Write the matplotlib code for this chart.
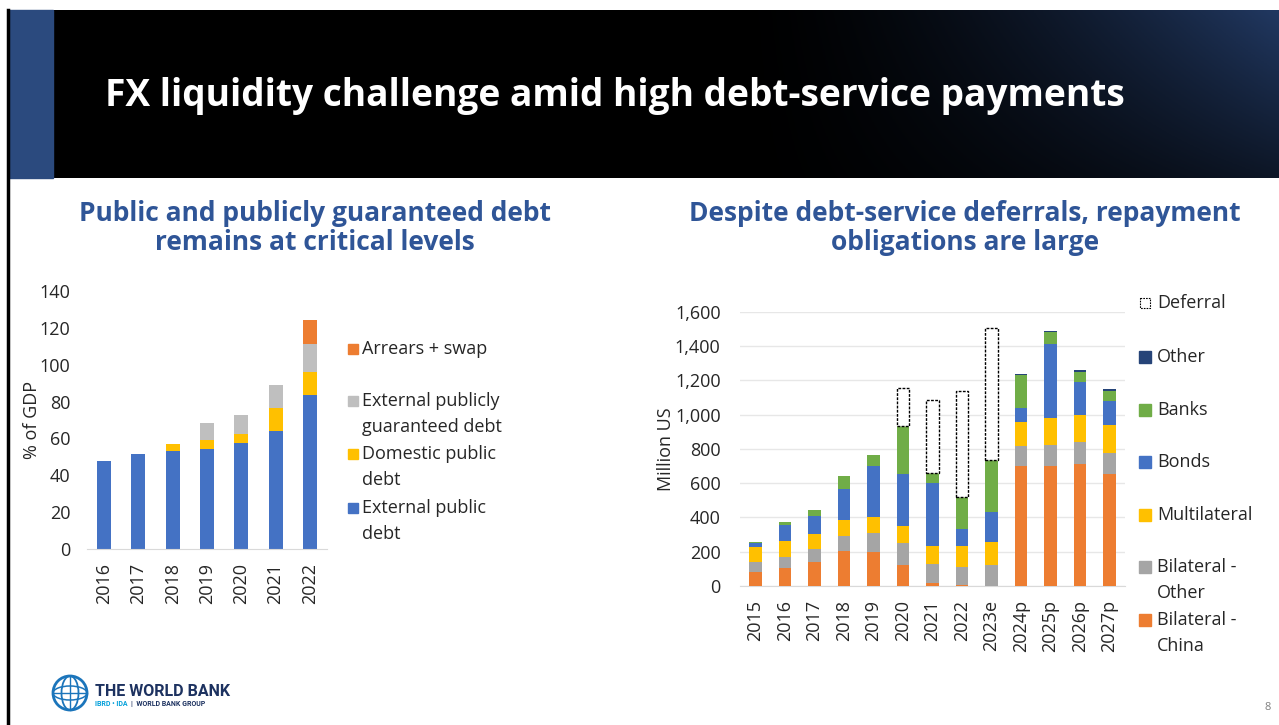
import numpy as np
import matplotlib
matplotlib.use("Agg")
import matplotlib.pyplot as plt
from matplotlib.patches import Rectangle, Circle, Ellipse

plt.rcParams['font.family'] = ['Open Sans', 'DejaVu Sans']

# ---- left chart data (% of GDP)
years_l = ['2016', '2017', '2018', '2019', '2020', '2021', '2022']
ext_public = [47.5, 51.3, 53.1, 54.0, 57.5, 63.8, 83.6]
domestic = [0, 0, 3.7, 4.9, 4.9, 12.6, 12.2]
ext_guar = [0, 0, 0, 9.5, 10.1, 12.5, 15.6]
arrears = [0, 0, 0, 0, 0, 0, 12.8]
left_labels = ['Arrears + swap', 'External publicly\nguaranteed debt',
               'Domestic public\ndebt', 'External public\ndebt']

# ---- right chart data (million US)
years_r = ['2015', '2016', '2017', '2018', '2019', '2020', '2021', '2022',
           '2023e', '2024p', '2025p', '2026p', '2027p']
bil_china = [84, 107, 140, 202, 198, 121, 19, 8, 0, 700, 702, 713, 655]
bil_other = [58, 64, 74, 90, 109, 130, 109, 103, 121, 116, 120, 127, 121]
multilat = [87, 91, 89, 93, 93, 97, 107, 124, 134, 140, 160, 157, 165]
bonds = [20, 94, 105, 183, 300, 305, 366, 97, 179, 82, 431, 193, 138]
banks = [8, 15, 35, 75, 64, 280, 56, 189, 301, 195, 70, 60, 60]
other = [0, 0, 0, 0, 0, 0, 0, 0, 0, 3, 4, 10, 8]
deferral = [0, 0, 0, 0, 0, 220, 426, 614, 772, 0, 0, 0, 0]
right_labels = ['Deferral', 'Other', 'Banks', 'Bonds', 'Multilateral',
                'Bilateral -\nOther', 'Bilateral -\nChina']

ORANGE = '#ED7D31'
GREY_L = '#BFBFBF'
GREY_R = '#A5A5A5'
YELLOW = '#FFC000'
BLUE = '#4472C4'
GREEN = '#70AD47'
NAVY = '#264478'
TITLE_BLUE = '#2F5597'
TXT = '#262626'

W, H = 1279, 725
fig = plt.figure(figsize=(W / 100, H / 100), dpi=100)

# overlay for decorations, pixel coordinates
ov = fig.add_axes([0, 0, 1, 1])
ov.set_xlim(0, W)
ov.set_ylim(H, 0)
ov.axis('off')

# banner gradient
gx = np.linspace(0, 1, 400)
gy = np.linspace(0, 1, 60)
X, Y = np.meshgrid(gx, gy)
t = np.clip((X - 0.55) / 0.45, 0, 1) ** 1.6 * (1 - 0.6 * Y)
navy = np.array([0.13, 0.22, 0.38])
img = t[..., None] * navy[None, None, :]
ov.imshow(img, extent=[53, W, 178, 10], aspect='auto', zorder=1)
ov.add_patch(Rectangle((8, 10), 45, 168, color='#2B4A7E', zorder=2))
ov.plot([8, 8], [10, H], color='black', lw=2.5, zorder=3)
ov.text(105, 96, 'FX liquidity challenge amid high debt-service payments',
        color='white', fontsize=26.7, fontweight='bold', va='center', ha='left', zorder=4)

# subtitles
ov.text(315, 228, 'Public and publicly guaranteed debt\nremains at critical levels',
        color=TITLE_BLUE, fontsize=19, fontweight='bold', ha='center', va='center',
        linespacing=1.1)
ov.text(965, 228, 'Despite debt-service deferrals, repayment\nobligations are large',
        color=TITLE_BLUE, fontsize=19, fontweight='bold', ha='center', va='center',
        linespacing=1.1)

# ---- left chart
axl = fig.add_axes([87 / W, 1 - 549 / H, 240 / W, 258 / H])
axl.patch.set_alpha(0)
xl = np.arange(len(years_l))
bw = 0.41
b = np.zeros(len(xl))
for vals, col in [(ext_public, BLUE), (domestic, YELLOW), (ext_guar, GREY_L), (arrears, ORANGE)]:
    axl.bar(xl, vals, bw, bottom=b, color=col)
    b += np.array(vals)
axl.set_xlim(-0.5, len(xl) - 0.5)
axl.set_ylim(0, 140)
axl.set_yticks(np.arange(0, 141, 20))
axl.set_xticks(xl)
axl.set_xticklabels(years_l, rotation=90)
axl.tick_params(length=0, labelsize=13, colors=TXT)
axl.tick_params(axis='x', pad=10)
axl.tick_params(axis='y', pad=12)
for s in ['top', 'right', 'left']:
    axl.spines[s].set_visible(False)
axl.spines['bottom'].set_color('#D9D9D9')
axl.set_ylabel('% of GDP', fontsize=13, color=TXT)
axl.yaxis.set_label_coords(-0.193, 0.5)

leg_cols_l = [ORANGE, GREY_L, YELLOW, BLUE]
leg_y_l = [349, 401, 454, 508]
for lab, col, y in zip(left_labels, leg_cols_l, leg_y_l):
    ov.add_patch(Rectangle((348, y - 5), 10, 10, color=col))
    ov.text(362, y - 9, lab, fontsize=13, color=TXT, va='top', ha='left', linespacing=1.55)

# ---- right chart
axr = fig.add_axes([740 / W, 1 - 586 / H, 385 / W, 274.3 / H])
axr.patch.set_alpha(0)
xr = np.arange(len(years_r))
b = np.zeros(len(xr))
for vals, col in [(bil_china, ORANGE), (bil_other, GREY_R), (multilat, YELLOW),
                  (bonds, BLUE), (banks, GREEN), (other, NAVY)]:
    axr.bar(xr, vals, 0.42, bottom=b, color=col, zorder=3)
    b += np.array(vals)
d = np.array(deferral)
mask = d > 0
axr.bar(xr[mask], d[mask], 0.42, bottom=b[mask], facecolor='white',
        edgecolor='black', linestyle=(0, (2, 1)), linewidth=1, zorder=3)
axr.set_xlim(-0.53, len(xr) - 0.47)
axr.set_ylim(0, 1600)
axr.set_yticks(np.arange(0, 1601, 200))
axr.set_yticklabels([f'{v:,}' for v in range(0, 1601, 200)])
axr.set_xticks(xr)
axr.set_xticklabels(years_r, rotation=90)
axr.tick_params(length=0, labelsize=13, colors=TXT)
axr.tick_params(axis='x', pad=10)
axr.tick_params(axis='y', pad=14)
axr.grid(axis='y', color='#E7E7E7', lw=1, zorder=0)
for s in ['top', 'right', 'left']:
    axr.spines[s].set_visible(False)
axr.spines['bottom'].set_color('#D9D9D9')
axr.set_ylabel('Million US', fontsize=13, color=TXT)
axr.yaxis.set_label_coords(-0.168, 0.5)

leg_cols_r = [None, NAVY, GREEN, BLUE, YELLOW, GREY_R, ORANGE]
leg_y_r = [303, 357, 410, 462, 515, 567, 620]
for lab, col, y in zip(right_labels, leg_cols_r, leg_y_r):
    if col is None:
        ov.add_patch(Rectangle((1140, y - 5), 10, 10, facecolor='white',
                               edgecolor='black', linestyle=(0, (1.5, 1)), lw=0.8))
    else:
        ov.add_patch(Rectangle((1139, y - 6), 12, 12, color=col))
    ov.text(1157, y - 9, lab, fontsize=13, color=TXT, va='top', ha='left', linespacing=1.55)

# ---- logo
ov.add_patch(Circle((70, 693), 17, facecolor='none', edgecolor='#1B75BB', lw=2))
ov.add_patch(Ellipse((70, 693), 17, 34, facecolor='none', edgecolor='#1B75BB', lw=1.3))
ov.add_patch(Ellipse((70, 693), 34, 14, facecolor='none', edgecolor='#1B75BB', lw=1.1))
ov.plot([53, 87], [693, 693], color='#1B75BB', lw=1)
ov.plot([70, 70], [676, 710], color='#1B75BB', lw=1)
ov.text(95, 691, 'THE WORLD BANK', fontsize=11.5, fontweight='bold', color='#1D3260',
        va='center', ha='left', family=['Roboto', 'DejaVu Sans'])
ov.text(95, 704, 'IBRD • IDA', fontsize=5, fontweight='bold', color='#009FDA',
        va='center', ha='left', family=['Roboto', 'DejaVu Sans'])
ov.text(131, 704, '|  WORLD BANK GROUP', fontsize=5, fontweight='bold', color='#1D3260',
        va='center', ha='left', family=['Roboto', 'DejaVu Sans'])

ov.text(1268, 708, '8', fontsize=8, color='#7F7F7F', ha='center', va='center')

fig.savefig('out.png', dpi=100)
